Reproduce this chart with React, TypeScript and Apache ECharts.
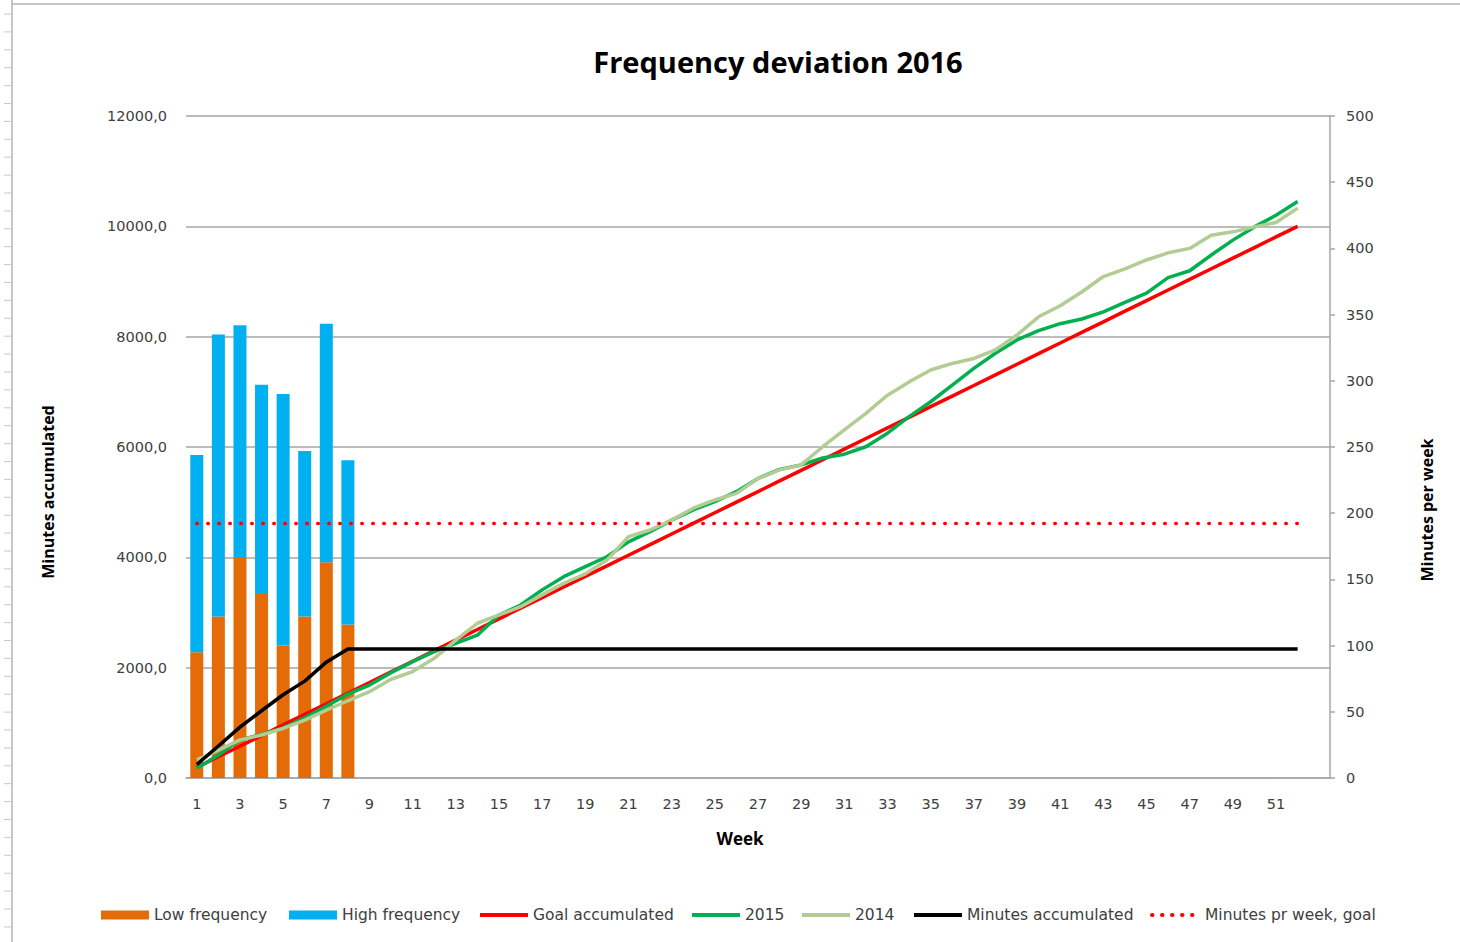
import React, { useEffect, useRef } from "react";
import * as echarts from "echarts";

const weeks = [
  "1","2","3","4","5","6","7","8","9","10","11","12","13","14","15","16","17","18","19","20",
  "21","22","23","24","25","26","27","28","29","30","31","32","33","34","35","36","37","38","39","40",
  "41","42","43","44","45","46","47","48","49","50","51","52","",
];

const lowFrequency = [95, 122, 167, 139, 100, 122, 163, 116];
const highFrequency = [149, 213, 175, 158, 190, 125, 180, 124];

const goalAccumulated = [
  192, 385, 577, 769, 962, 1154, 1346, 1538, 1731, 1923, 2115, 2308, 2500, 2692, 2885, 3077, 3269, 3462,
  3654, 3846, 4038, 4231, 4423, 4615, 4808, 5000, 5192, 5385, 5577, 5769, 5962, 6154, 6346, 6538, 6731,
  6923, 7115, 7308, 7500, 7692, 7885, 8077, 8269, 8462, 8654, 8846, 9038, 9231, 9423, 9615, 9808, 10000,
];

const year2015 = [
  175, 415, 690, 790, 910, 1090, 1300, 1520, 1685, 1910, 2110, 2290, 2440, 2590, 2955, 3135, 3410, 3650,
  3830, 4010, 4280, 4465, 4675, 4860, 5010, 5190, 5430, 5595, 5675, 5800, 5870, 6005, 6250, 6550, 6820,
  7120, 7425, 7700, 7940, 8110, 8235, 8320, 8450, 8620, 8790, 9070, 9195, 9480, 9750, 9990, 10200, 10450,
];

const year2014 = [
  330, 505, 690, 780, 900, 1050, 1230, 1400, 1565, 1790, 1930, 2170, 2500, 2805, 2955, 3105, 3320, 3530,
  3700, 3950, 4375, 4495, 4675, 4890, 5040, 5160, 5430, 5585, 5675, 6005, 6310, 6610, 6940, 7180, 7395,
  7515, 7605, 7760, 8030, 8360, 8560, 8810, 9090, 9230, 9390, 9520, 9600, 9840, 9900, 9990, 10070, 10330,
];

const minutesAccumulated = [
  244, 580, 922, 1219, 1509, 1756, 2100, 2340, 2340, 2340, 2340, 2340, 2340, 2340, 2340, 2340, 2340, 2340,
  2340, 2340, 2340, 2340, 2340, 2340, 2340, 2340, 2340, 2340, 2340, 2340, 2340, 2340, 2340, 2340, 2340,
  2340, 2340, 2340, 2340, 2340, 2340, 2340, 2340, 2340, 2340, 2340, 2340, 2340, 2340, 2340, 2340, 2340,
];

const weeklyGoal = [
  192.3, 192.3, 192.3, 192.3, 192.3, 192.3, 192.3, 192.3, 192.3, 192.3, 192.3, 192.3, 192.3, 192.3,
  192.3, 192.3, 192.3, 192.3, 192.3, 192.3, 192.3, 192.3, 192.3, 192.3, 192.3, 192.3, 192.3, 192.3,
  192.3, 192.3, 192.3, 192.3, 192.3, 192.3, 192.3, 192.3, 192.3, 192.3, 192.3, 192.3, 192.3, 192.3,
  192.3, 192.3, 192.3, 192.3, 192.3, 192.3, 192.3, 192.3, 192.3, 192.3,
];

const legendNames = [
  "Low frequency",
  "High frequency",
  "Goal accumulated",
  "2015",
  "2014",
  "Minutes accumulated",
  "Minutes pr week, goal",
];
const legendLeft = [101, 289, 478, 690, 800, 912, 1150];

const TITLE = "Frequency deviation 2016";
const LEFT_NAME = "Minutes accumulated";
const RIGHT_NAME = "Minutes per week";
const X_NAME = "Week";

export default function App() {
  const ref = useRef<HTMLDivElement>(null);

  useEffect(() => {
    if (!ref.current) return;
    const chart = echarts.init(ref.current, null, { renderer: "svg" });
    const tickFont = "DejaVu Sans";
    const textFont = "Open Sans";

    const rowTicks: any[] = [];
    for (let y = 14; y < 942; y += 17.9) {
      rowTicks.push({
        type: "line",
        shape: { x1: 4, y1: y, x2: 11, y2: y },
        style: { stroke: "#c8c8c8", lineWidth: 1 },
        silent: true,
      });
    }

    const legends = legendNames.map((name, i) => ({
      left: legendLeft[i],
      top: 907,
      padding: 0,
      itemWidth: 48,
      itemHeight: 9,
      itemGap: 5,
      textStyle: { fontFamily: tickFont, fontSize: 15.5, color: "#404040" },
      data: [
        i < 2
          ? { name, icon: "rect" }
          : i === 6
          ? { name, itemStyle: { opacity: 0 }, lineStyle: { width: 4, type: [0.5, 9.5], cap: "round" } }
          : { name, itemStyle: { opacity: 0 }, lineStyle: { width: 4 } },
      ],
    }));

    chart.setOption({
      animation: false,
      backgroundColor: "#ffffff",
      grid: { left: 186, right: 130, top: 116, bottom: 164, containLabel: false },
      legend: legends,
      xAxis: {
        type: "category",
        data: weeks,
        boundaryGap: true,
        axisLine: { show: true, lineStyle: { color: "#a6a6a6", width: 1.5 } },
        axisTick: { show: false },
        axisLabel: {
          interval: 1,
          margin: 18,
          fontFamily: tickFont,
          fontSize: 14.5,
          color: "#404040",
        },
      },
      yAxis: [
        {
          type: "value",
          min: 0,
          max: 12000,
          interval: 2000,
          axisLine: { show: false },
          axisTick: { show: false },
          axisLabel: {
            margin: 19,
            fontFamily: tickFont,
            fontSize: 14.5,
            color: "#404040",
            formatter: (v: number) => v.toFixed(1).replace(".", ","),
          },
          splitLine: { show: true, lineStyle: { color: "#a6a6a6", width: 1.5 } },
        },
        {
          type: "value",
          min: 0,
          max: 500,
          interval: 50,
          position: "right",
          axisLine: { show: true, lineStyle: { color: "#a6a6a6", width: 1.5 } },
          axisTick: { show: true, length: 5, lineStyle: { color: "#a6a6a6", width: 1.5 } },
          axisLabel: {
            margin: 16,
            fontFamily: tickFont,
            fontSize: 14.5,
            color: "#404040",
          },
          splitLine: { show: false },
        },
      ],
      series: [
        {
          name: "Low frequency",
          type: "bar",
          stack: "freq",
          yAxisIndex: 1,
          barWidth: 13,
          itemStyle: { color: "#E36C09" },
          data: lowFrequency,
        },
        {
          name: "High frequency",
          type: "bar",
          stack: "freq",
          yAxisIndex: 1,
          barWidth: 13,
          itemStyle: { color: "#00B0F0" },
          data: highFrequency,
        },
        {
          name: "Goal accumulated",
          type: "line",
          yAxisIndex: 0,
          symbol: "none",
          lineStyle: { color: "#FF0000", width: 3.5 },
          itemStyle: { color: "#FF0000" },
          data: goalAccumulated,
        },
        {
          name: "2015",
          type: "line",
          yAxisIndex: 0,
          symbol: "none",
          lineStyle: { color: "#00B050", width: 3.5 },
          itemStyle: { color: "#00B050" },
          data: year2015,
        },
        {
          name: "2014",
          type: "line",
          yAxisIndex: 0,
          symbol: "none",
          lineStyle: { color: "#B3CC93", width: 3.5 },
          itemStyle: { color: "#B3CC93" },
          data: year2014,
        },
        {
          name: "Minutes accumulated",
          type: "line",
          yAxisIndex: 0,
          symbol: "none",
          lineStyle: { color: "#000000", width: 3.5 },
          itemStyle: { color: "#000000" },
          data: minutesAccumulated,
        },
        {
          name: "Minutes pr week, goal",
          type: "line",
          yAxisIndex: 1,
          symbol: "none",
          lineStyle: { color: "#FF0000", width: 3.5, type: [0.5, 10.5], cap: "round" },
          itemStyle: { color: "#FF0000" },
          data: weeklyGoal,
        },
      ],
      graphic: [
        {
          type: "line",
          shape: { x1: 12, y1: 0, x2: 12, y2: 942 },
          style: { stroke: "#b4b4b4", lineWidth: 1.5 },
          silent: true,
        },
        {
          type: "line",
          shape: { x1: 12, y1: 4, x2: 1460, y2: 4 },
          style: { stroke: "#b4b4b4", lineWidth: 1.5 },
          silent: true,
        },
        ...rowTicks,
        {
          type: "text",
          x: 778,
          y: 61,
          style: {
            text: TITLE,
            fontFamily: textFont,
            fontWeight: "bold",
            fontSize: 29,
            fill: "#000000",
            textAlign: "center",
            textVerticalAlign: "middle",
          },
        },
        {
          type: "text",
          x: 48,
          y: 492,
          rotation: Math.PI / 2,
          style: {
            text: LEFT_NAME,
            fontFamily: textFont,
            fontWeight: "bold",
            fontSize: 16,
            fill: "#000000",
            textAlign: "center",
            textVerticalAlign: "middle",
          },
        },
        {
          type: "text",
          x: 1427,
          y: 510,
          rotation: Math.PI / 2,
          style: {
            text: RIGHT_NAME,
            fontFamily: textFont,
            fontWeight: "bold",
            fontSize: 16,
            fill: "#000000",
            textAlign: "center",
            textVerticalAlign: "middle",
          },
        },
        {
          type: "text",
          x: 740,
          y: 838,
          style: {
            text: X_NAME,
            fontFamily: textFont,
            fontWeight: "bold",
            fontSize: 17,
            fill: "#000000",
            textAlign: "center",
            textVerticalAlign: "middle",
          },
        },
      ],
    });

    return () => {
      chart.dispose();
    };
  }, []);

  return (
    <div
      ref={ref}
      style={{ position: "fixed", left: 0, top: 0, width: 1460, height: 942, background: "#fff" }}
    />
  );
}
